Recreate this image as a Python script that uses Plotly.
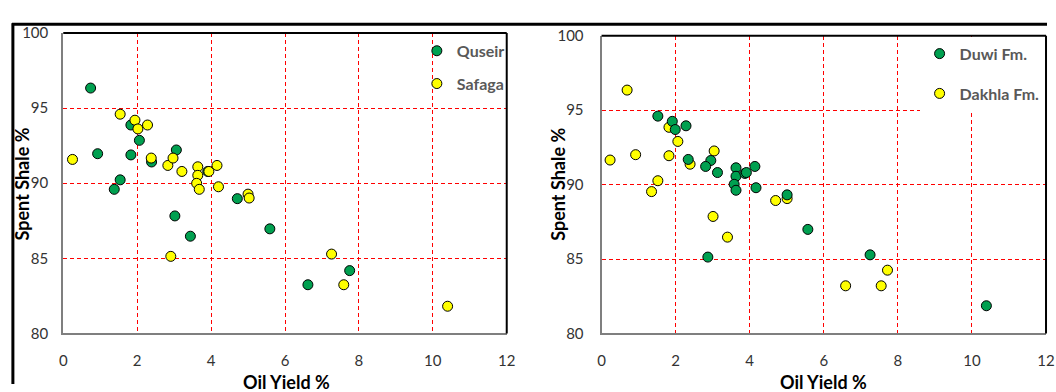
import plotly.graph_objects as go

# ---------------- data ----------------
quseir_x = [0.74, 0.93, 1.83, 2.06, 1.83, 1.54, 1.38, 3.06, 2.39, 3.91, 4.71, 3.02, 3.44, 5.59, 6.62, 7.75]
quseir_y = [96.33, 91.96, 93.87, 92.85, 91.88, 90.22, 89.59, 92.21, 91.41, 90.78, 88.97, 87.82, 86.47, 86.96, 83.24, 84.18]

safaga_x = [0.25, 1.54, 1.94, 2.02, 2.28, 2.38, 2.83, 2.97, 3.21, 3.64, 3.64, 3.61, 3.68, 3.94, 4.16, 4.20,
            5.00, 5.03, 2.91, 7.26, 7.59, 10.40]
safaga_y = [91.58, 94.59, 94.19, 93.61, 93.87, 91.67, 91.18, 91.67, 90.78, 91.09, 90.52, 89.99, 89.59, 90.78,
            91.18, 89.76, 89.27, 89.01, 85.13, 85.28, 83.24, 81.81]

duwi_x = [1.52, 1.91, 1.99, 2.28, 2.34, 2.95, 2.81, 3.13, 3.63, 3.63, 3.87, 3.91, 4.14, 3.58, 3.63, 4.17,
          5.01, 5.57, 2.87, 7.25, 10.39]
duwi_y = [94.60, 94.25, 93.70, 93.95, 91.69, 91.62, 91.22, 90.81, 91.13, 90.56, 90.75, 90.81, 91.22, 90.02,
          89.62, 89.79, 89.31, 86.99, 85.13, 85.28, 81.86]

dakhla_x = [0.69, 0.23, 0.92, 1.52, 1.35, 1.82, 1.82, 2.06, 2.39, 3.04, 4.70, 5.01, 3.01, 3.40, 6.59, 7.72, 7.55]
dakhla_y = [96.35, 91.65, 92.01, 90.26, 89.53, 93.85, 91.94, 92.90, 91.37, 92.26, 88.93, 89.06, 87.86, 86.47,
            83.20, 84.25, 83.20]

x_range = [0, 12]
y_range = [80, 100]
x_title = "Oil Yield %"
y_title = "Spent Shale %"

# ---------------- layout helpers ----------------
W, H = 1056, 392
def px(x):
    return x / W
def py(y):
    return 1 - y / H

GREEN = "#00A050"
YELLOW = "#FFFF00"
FONT = "Lato"

fig = go.Figure()

def add(xs, ys, name, color, xa, ya, legend, rank):
    fig.add_trace(go.Scatter(
        x=xs, y=ys, mode="markers", name=name,
        marker=dict(size=10, color=color, line=dict(color="black", width=1)),
        xaxis=xa, yaxis=ya, legend=legend, legendgroup=name, legendrank=rank,
        showlegend=True,
    ))

add(quseir_x, quseir_y, "Quseir", GREEN, "x", "y", "legend", 1)
add(safaga_x, safaga_y, "Safaga", YELLOW, "x", "y", "legend", 2)
add(dakhla_x, dakhla_y, "Dakhla Fm.", YELLOW, "x2", "y2", "legend2", 2)
add(duwi_x, duwi_y, "Duwi Fm.", GREEN, "x2", "y2", "legend2", 1)

axis_common = dict(
    showgrid=True, gridcolor="#FF0000", gridwidth=1, griddash="4px,3px",
    zeroline=False, showline=True, linecolor="#7F7F7F", linewidth=2,
    tickfont=dict(family=FONT, size=15, color="#333333"),
    ticks="", fixedrange=True,
)

left_dom_x = [px(60), px(509)]
left_dom_y = [py(339), py(24)]
right_dom_x = [px(605), px(1055)]
right_dom_y = [py(339), py(27)]

legend_font = dict(family=FONT, size=16, color="#595959", weight="bold")

fig.update_layout(
    width=W, height=H,
    margin=dict(l=0, r=0, t=0, b=0),
    paper_bgcolor="white", plot_bgcolor="white",
    xaxis=dict(domain=left_dom_x, range=x_range, dtick=2, anchor="y", ticklabelstandoff=13, **axis_common),
    yaxis=dict(domain=left_dom_y, range=y_range, dtick=5, anchor="x", ticklabelstandoff=10, **axis_common),
    xaxis2=dict(domain=right_dom_x, range=x_range, dtick=2, anchor="y2", ticklabelstandoff=13, **axis_common),
    yaxis2=dict(domain=right_dom_y, range=y_range, dtick=5, anchor="x2", ticklabelstandoff=13, **axis_common),
    legend=dict(
        x=px(418), xanchor="left", y=py(25), yanchor="top",
        bgcolor="rgba(0,0,0,0)", borderwidth=0, tracegroupgap=9,
        font=legend_font, traceorder="grouped",
    ),
    legend2=dict(
        x=px(927), xanchor="left", y=py(28), yanchor="top",
        bgcolor="white", borderwidth=0, tracegroupgap=16,
        font=legend_font, traceorder="grouped",
    ),
    showlegend=True,
)

shapes = []
# outer chart frame lines (top and left)
shapes.append(dict(type="line", xref="paper", yref="paper", x0=px(8), x1=1, y0=py(15), y1=py(15),
                   line=dict(color="black", width=3)))
shapes.append(dict(type="line", xref="paper", yref="paper", x0=px(9), x1=px(9), y0=py(14), y1=0,
                   line=dict(color="black", width=3)))
# plot area top and right borders
for xa, ya in (("x", "y"), ("x2", "y2")):
    shapes.append(dict(type="line", xref=xa + " domain", yref=ya + " domain", x0=0, x1=1, y0=1, y1=1,
                       line=dict(color="black", width=2)))
    shapes.append(dict(type="line", xref=xa + " domain", yref=ya + " domain", x0=1, x1=1, y0=0, y1=1,
                       line=dict(color="black", width=2)))
fig.update_layout(shapes=shapes)

title_font = dict(family=FONT, size=18, color="black", weight="bold")
ann = []
for cx in (286, 830):
    ann.append(dict(text=x_title, x=px(cx), y=py(390), xref="paper", yref="paper",
                    xanchor="center", yanchor="middle", showarrow=False, font=title_font))
for cx, cy in ((18, 182), (560, 183)):
    ann.append(dict(text=y_title, x=px(cx), y=py(cy), xref="paper", yref="paper", textangle=-90,
                    xanchor="center", yanchor="middle", showarrow=False, font=title_font))
fig.update_layout(annotations=ann)

fig.write_html("out.html", config={"displayModeBar": False},
               post_script="document.body.style.margin='0';")
